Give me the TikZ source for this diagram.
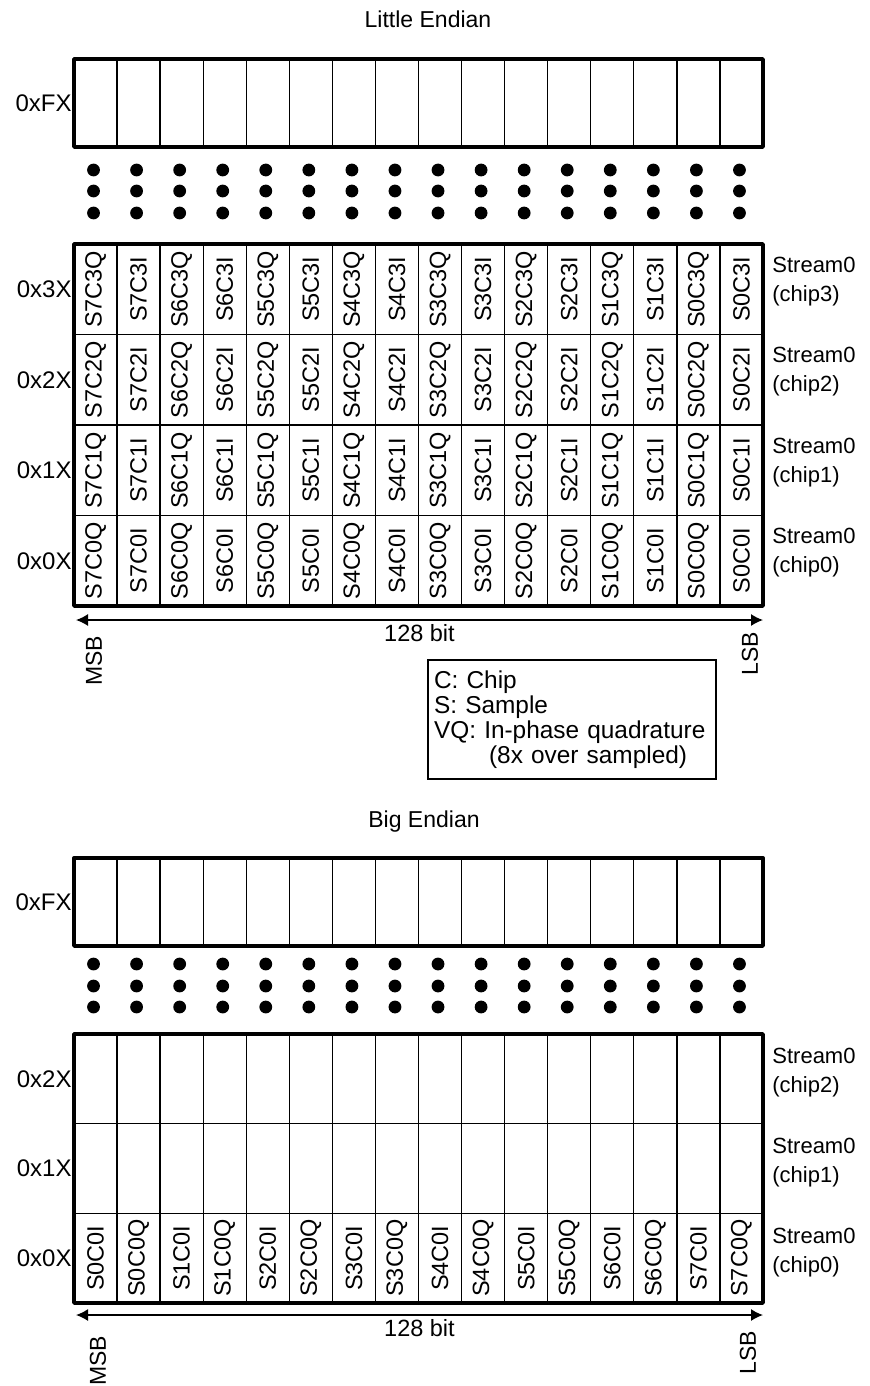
\documentclass[tikz,border=0pt]{standalone}
\usepackage{fontspec}
\setmainfont{Liberation Sans}
\usetikzlibrary{arrows.meta,positioning}
\tikzset{cell/.style={draw,line width=0.65pt,minimum width=21.53pt,minimum height=45.25pt,
 inner sep=0pt,outer sep=0pt,font=\fontsize{11.75}{12}\selectfont},
 frame/.style={line width=1.7pt,line join=round},
 rowlab/.style={anchor=east,inner sep=0pt,font=\fontsize{12}{12}\selectfont},
 streamlab/.style={anchor=west,align=left,inner sep=0pt,font=\fontsize{11}{14.5}\selectfont},
 endlab/.style={rotate=90,inner sep=0pt,font=\fontsize{11.5}{12}\selectfont},
 title/.style={inner sep=0pt,font=\fontsize{11.5}{12}\selectfont},
 dimarr/.style={{Latex[length=6pt,width=6pt]}-{Latex[length=6pt,width=6pt]},line width=0.7pt},
 legend/.style={draw,line width=1.1pt,inner xsep=3pt,text width=138pt,minimum height=59.5pt,
 align=left,font=\fontsize{12.2}{12.5}\selectfont},
 dot/.style={fill=black}}

\begin{document}
\begin{tikzpicture}[x=0.5pt,y=-0.5pt]
\useasboundingbox (0,0) rectangle (870,1386);

% Little Endian
\node[title] (le-title) at (428,19) {Little Endian};
\node[rowlab] (le-labf) at (72,103) {0xFX};
\foreach \col in {0,...,15}{
  \node[cell,minimum height=44pt] (lefx-\col) at ({74+43.0625*(\col+.5)},103) {};
  \foreach \dy in {170,191,213}
    \fill[dot] ({72+43.0625*(\col+.5)},\dy) circle[radius=3.2pt];
}
\draw[frame] (lefx-0.north west) rectangle (lefx-15.south east);

\foreach \row in {0,...,3}{
  \node[rowlab] (le-lab\row) at (72,{606-90.5*(\row+.5)}) {0x\row X};
  \node[streamlab] (le-str\row) at (772,{598-90.5*(\row+.5)}) {Stream0\\(chip\row)};
  \foreach \col in {0,...,15}{
    \pgfmathtruncatemacro\smp{7-int(\col/2)}
    \pgfmathtruncatemacro\odd{mod(\col,2)}
    \node[cell] (le\row-\col) at ({74+43.0625*(\col+.5)},{606-90.5*(\row+.5)})
      {\rotatebox{90}{S\smp C\row\ifnum\odd=0 Q\else I\fi}};
  }
}
\draw[frame] (le3-0.north west) rectangle (le0-15.south east);

\coordinate (le-msb) at ([xshift=1pt,yshift=-7pt]le0-0.south west);
\coordinate (le-lsb) at ([yshift=-7pt]le0-15.south east);
\draw[dimarr] (le-msb) -- node[below=2pt,inner sep=0pt,font=\fontsize{11.75}{12}\selectfont]{128 bit} (le-lsb);
\node[endlab] (le-msb-lab) at (94,661) {MSB};
\node[endlab] (le-lsb-lab) at (750,654) {LSB};

\node[legend,anchor=north west] (le-key) at (427,659)
  {C: Chip\\S: Sample\\VQ: In-phase quadrature\\\hspace*{27.5pt}(8x over sampled)};

% Big Endian
\node[title] (be-title) at (424,822) {Big Endian};
\node[rowlab] (be-labf) at (72,902) {0xFX};
\foreach \col in {0,...,15}{
  \node[cell,minimum height=44pt] (befx-\col) at ({74+43.0625*(\col+.5)},902) {};
  \foreach \dy in {964,986,1007}
    \fill[dot] ({72+43.0625*(\col+.5)},\dy) circle[radius=3.2pt];
}
\draw[frame] (befx-0.north west) rectangle (befx-15.south east);

\foreach \row in {0,...,2}{
  \node[rowlab] (be-lab\row) at (72,{1303-89.7*(\row+.5)}) {0x\row X};
  \node[streamlab] (be-str\row) at (772,{1297-89.7*(\row+.5)}) {Stream0\\(chip\row)};
  \foreach \col in {0,...,15}{
    \pgfmathtruncatemacro\smp{int(\col/2)}
    \pgfmathtruncatemacro\odd{mod(\col,2)}
    \ifnum\row=0
      \node[cell,minimum height=44.85pt] (be\row-\col) at ({74+43.0625*(\col+.5)},{1303-89.7*(\row+.5)})
        {\rotatebox{90}{S\smp C0\ifnum\odd=0 I\else Q\fi}};
    \else
      \node[cell,minimum height=44.85pt] (be\row-\col) at ({74+43.0625*(\col+.5)},{1303-89.7*(\row+.5)}) {};
    \fi
  }
}
\draw[frame] (be2-0.north west) rectangle (be0-15.south east);

\coordinate (be-msb) at ([xshift=1pt,yshift=-6pt]be0-0.south west);
\coordinate (be-lsb) at ([yshift=-6pt]be0-15.south east);
\draw[dimarr] (be-msb) -- node[below=2pt,inner sep=0pt,font=\fontsize{11.75}{12}\selectfont]{128 bit} (be-lsb);
\node[endlab] (be-msb-lab) at (98,1361) {MSB};
\node[endlab] (be-lsb-lab) at (748,1353) {LSB};
\end{tikzpicture}
\end{document}
